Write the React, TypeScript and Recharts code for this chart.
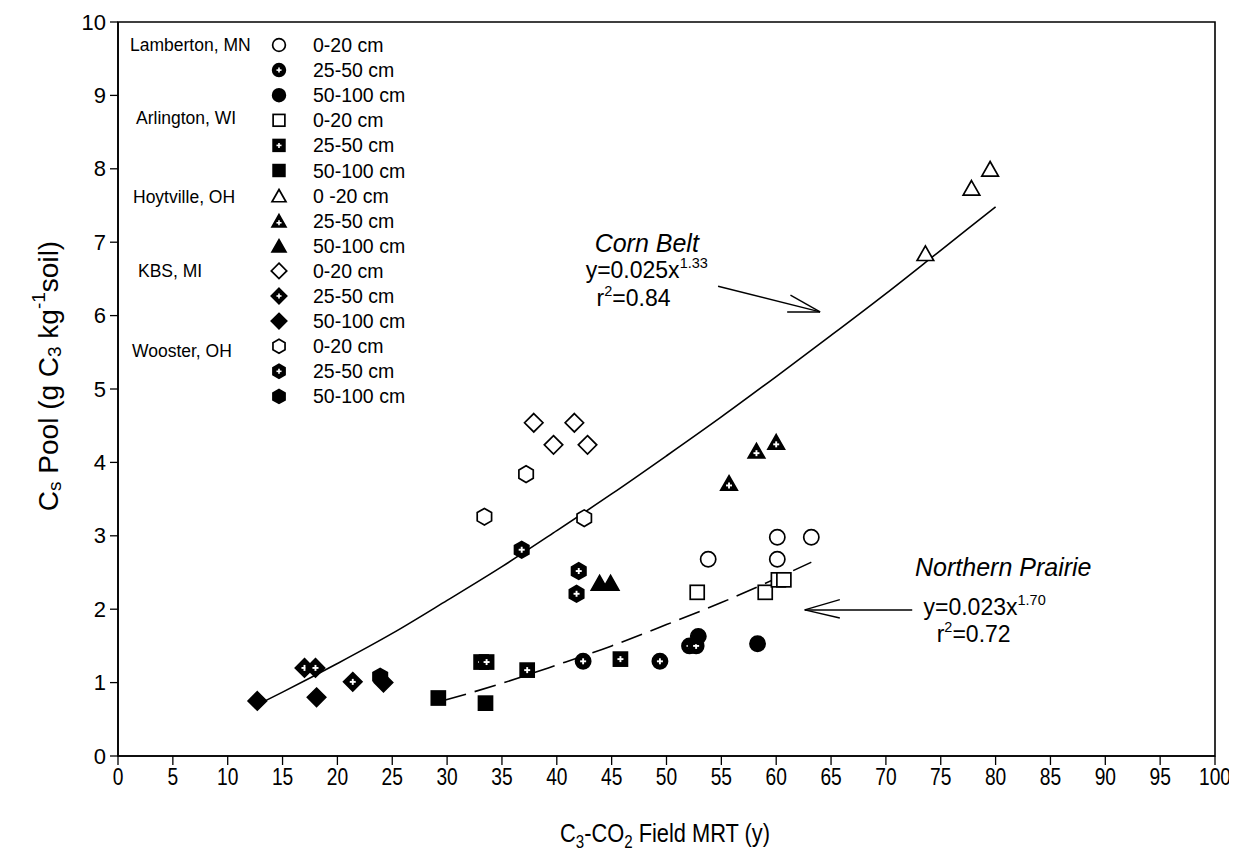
import React from 'react';
import {
  ScatterChart,
  Scatter,
  XAxis,
  YAxis,
  ReferenceArea,
  ReferenceLine,
  ReferenceDot,
  Legend,
} from 'recharts';

type Pt = { x: number; y: number };
type Kind = 'circle' | 'square' | 'triangle' | 'diamond' | 'hexagon';
type Variant = 'open' | 'plus' | 'solid';

const FONT = "'Liberation Sans', Arial, Helvetica, sans-serif";

// ---- tick labels ----
const xTicks = [0, 5, 10, 15, 20, 25, 30, 35, 40, 45, 50, 55, 60, 65, 70, 75, 80, 85, 90, 95, 100];
const yTicks = [0, 1, 2, 3, 4, 5, 6, 7, 8, 9, 10];

// ---- sites / depths ----
const siteNames = ['Lamberton, MN', 'Arlington, WI', 'Hoytville, OH', 'KBS, MI', 'Wooster, OH'];
const depthNames = ['0-20 cm', '25-50 cm', '50-100 cm'];
const hoytvilleTopLabel = '0 -20 cm';

// ---- data (x = C3-CO2 field MRT, y = Cs pool) ----
const lamberton0_20: Pt[] = [
  { x: 53.8, y: 2.68 }, { x: 60.1, y: 2.68 }, { x: 60.1, y: 2.98 }, { x: 63.2, y: 2.98 },
];
const lamberton25_50: Pt[] = [
  { x: 42.4, y: 1.29 }, { x: 49.4, y: 1.29 }, { x: 52.1, y: 1.5 }, { x: 52.7, y: 1.5 },
];
const lamberton50_100: Pt[] = [
  { x: 52.9, y: 1.63 }, { x: 58.3, y: 1.53 },
];
const arlington0_20: Pt[] = [
  { x: 52.8, y: 2.23 }, { x: 59.0, y: 2.23 }, { x: 60.2, y: 2.4 }, { x: 60.7, y: 2.4 },
];
const arlington25_50: Pt[] = [
  { x: 33.1, y: 1.28 }, { x: 33.6, y: 1.28 }, { x: 37.3, y: 1.17 }, { x: 45.8, y: 1.32 },
];
const arlington50_100: Pt[] = [
  { x: 29.2, y: 0.79 }, { x: 33.5, y: 0.72 },
];
const hoytville0_20: Pt[] = [
  { x: 73.6, y: 6.85 }, { x: 77.8, y: 7.74 }, { x: 79.5, y: 8.0 },
];
const hoytville25_50: Pt[] = [
  { x: 55.7, y: 3.72 }, { x: 58.2, y: 4.16 }, { x: 60.0, y: 4.28 },
];
const hoytville50_100: Pt[] = [
  { x: 43.9, y: 2.36 }, { x: 44.9, y: 2.36 },
];
const kbs0_20: Pt[] = [
  { x: 37.9, y: 4.54 }, { x: 41.6, y: 4.54 }, { x: 39.7, y: 4.24 }, { x: 42.8, y: 4.24 },
];
const kbs25_50: Pt[] = [
  { x: 17.0, y: 1.2 }, { x: 18.0, y: 1.2 }, { x: 21.4, y: 1.01 },
];
const kbs50_100: Pt[] = [
  { x: 12.7, y: 0.75 }, { x: 18.1, y: 0.8 }, { x: 24.2, y: 1.0 },
];
const wooster0_20: Pt[] = [
  { x: 33.4, y: 3.26 }, { x: 37.2, y: 3.84 }, { x: 42.5, y: 3.24 },
];
const wooster25_50: Pt[] = [
  { x: 36.8, y: 2.81 }, { x: 42.0, y: 2.52 }, { x: 41.8, y: 2.21 },
];
const wooster50_100: Pt[] = [
  { x: 23.9, y: 1.08 },
];

// ---- fitted curves ----
const cornBeltCurve: Pt[] = [
  { x: 13, y: 0.72 }, { x: 15, y: 0.87 }, { x: 20, y: 1.26 }, { x: 25, y: 1.67 },
  { x: 30, y: 2.12 }, { x: 35, y: 2.58 }, { x: 40, y: 3.07 }, { x: 45, y: 3.57 },
  { x: 50, y: 4.09 }, { x: 55, y: 4.62 }, { x: 60, y: 5.17 }, { x: 65, y: 5.73 },
  { x: 70, y: 6.3 }, { x: 75, y: 6.89 }, { x: 80, y: 7.48 },
];
const northernPrairieCurve: Pt[] = [
  { x: 29.8, y: 0.76 }, { x: 35, y: 0.99 }, { x: 40, y: 1.24 }, { x: 45, y: 1.5 },
  { x: 50, y: 1.79 }, { x: 55, y: 2.09 }, { x: 60, y: 2.42 }, { x: 63.2, y: 2.64 },
];

const seriesList: { site: string; depth: string; kind: Kind; variant: Variant; data: Pt[] }[] = [
  { site: siteNames[0], depth: depthNames[0], kind: 'circle', variant: 'open', data: lamberton0_20 },
  { site: '', depth: depthNames[1], kind: 'circle', variant: 'plus', data: lamberton25_50 },
  { site: '', depth: depthNames[2], kind: 'circle', variant: 'solid', data: lamberton50_100 },
  { site: siteNames[1], depth: depthNames[0], kind: 'square', variant: 'open', data: arlington0_20 },
  { site: '', depth: depthNames[1], kind: 'square', variant: 'plus', data: arlington25_50 },
  { site: '', depth: depthNames[2], kind: 'square', variant: 'solid', data: arlington50_100 },
  { site: siteNames[2], depth: hoytvilleTopLabel, kind: 'triangle', variant: 'open', data: hoytville0_20 },
  { site: '', depth: depthNames[1], kind: 'triangle', variant: 'plus', data: hoytville25_50 },
  { site: '', depth: depthNames[2], kind: 'triangle', variant: 'solid', data: hoytville50_100 },
  { site: siteNames[3], depth: depthNames[0], kind: 'diamond', variant: 'open', data: kbs0_20 },
  { site: '', depth: depthNames[1], kind: 'diamond', variant: 'plus', data: kbs25_50 },
  { site: '', depth: depthNames[2], kind: 'diamond', variant: 'solid', data: kbs50_100 },
  { site: siteNames[4], depth: depthNames[0], kind: 'hexagon', variant: 'open', data: wooster0_20 },
  { site: '', depth: depthNames[1], kind: 'hexagon', variant: 'plus', data: wooster25_50 },
  { site: '', depth: depthNames[2], kind: 'hexagon', variant: 'solid', data: wooster50_100 },
];

function Marker({ cx, cy, kind, variant, k = 1 }: { cx: number; cy: number; kind: Kind; variant: Variant; k?: number }) {
  if (cx == null || cy == null || isNaN(cx) || isNaN(cy)) return <g />;
  const fill = variant === 'open' ? '#fff' : '#000';
  const common = { fill, stroke: '#000', strokeWidth: 1.7 };
  let shape: React.ReactNode = null;
  let py = cy;
  if (kind === 'circle') {
    shape = <circle cx={cx} cy={cy} r={7.6 * k} {...common} />;
  } else if (kind === 'square') {
    const h = 7 * k;
    shape = <rect x={cx - h} y={cy - h} width={2 * h} height={2 * h} {...common} />;
  } else if (kind === 'triangle') {
    const w = 8.3 * k;
    const hh = 7.3 * k;
    shape = <polygon points={`${cx},${cy - hh} ${cx + w},${cy + hh} ${cx - w},${cy + hh}`} {...common} strokeLinejoin="miter" />;
    py = cy + 2.5 * k;
  } else if (kind === 'diamond') {
    const d = 9.2 * k;
    shape = <polygon points={`${cx},${cy - d} ${cx + d},${cy} ${cx},${cy + d} ${cx - d},${cy}`} {...common} />;
  } else {
    const r = 8.3 * k;
    const pts = [-90, -30, 30, 90, 150, 210]
      .map((a) => `${cx + r * Math.cos((a * Math.PI) / 180)},${cy + r * Math.sin((a * Math.PI) / 180)}`)
      .join(' ');
    shape = <polygon points={pts} {...common} />;
  }
  const a = 3 * k;
  return (
    <g>
      {shape}
      {variant === 'plus' && (
        <g stroke="#fff" strokeWidth={1.9 * k}>
          <line x1={cx - a} y1={py} x2={cx + a} y2={py} />
          <line x1={cx} y1={py - a} x2={cx} y2={py + a} />
        </g>
      )}
    </g>
  );
}

function LegendBlock() {
  const rowY = (i: number) => 15 + 25.1 * i;
  const siteX = [5, 11, 8, 13, 7];
  const siteDy = [0, -2, 1, 0, 5];
  return (
    <svg width={300} height={390} style={{ display: 'block', overflow: 'visible' }}>
      {seriesList.map((s, i) => {
        const siteIdx = siteNames.indexOf(s.site);
        return (
          <g key={i}>
            {s.site && (
              <text
                x={siteX[siteIdx]}
                y={rowY(i) + siteDy[siteIdx]}
                dominantBaseline="central"
                fontFamily={FONT}
                fontSize={17.5}
                fill="#000"
              >
                {s.site}
              </text>
            )}
            <Marker cx={154} cy={rowY(i)} kind={s.kind} variant={s.variant} k={0.84} />
            <text x={188} y={rowY(i)} dominantBaseline="central" fontFamily={FONT} fontSize={19.5} fill="#000">
              {s.depth}
            </text>
          </g>
        );
      })}
    </svg>
  );
}

function XTick(props: any) {
  const { x, y, payload } = props;
  return (
    <text
      transform={`translate(${x}, ${y + 20}) scale(0.8, 1)`}
      textAnchor="middle"
      fontFamily={FONT}
      fontSize={24}
      fill="#000"
    >
      {payload.value}
    </text>
  );
}

function YTick(props: any) {
  const { x, y, payload } = props;
  return (
    <text x={x} y={y} textAnchor="end" dominantBaseline="central" fontFamily={FONT} fontSize={22} fill="#000">
      {payload.value}
    </text>
  );
}

function YTitle() {
  return (
    <text
      x={40}
      y={368}
      transform="rotate(-90, 40, 368)"
      textAnchor="middle"
      dominantBaseline="central"
      fontFamily={FONT}
      fontSize={28}
      fill="#000"
    >
      C<tspan fontSize={19} dy={6}>s</tspan>
      <tspan dy={-6}> Pool (g C</tspan>
      <tspan fontSize={19} dy={6}>3</tspan>
      <tspan dy={-6}> kg</tspan>
      <tspan fontSize={19} dy={-10}>-1</tspan>
      <tspan dy={10}>soil)</tspan>
    </text>
  );
}

function XTitle() {
  return (
    <text
      transform="translate(657, 834) scale(0.84, 1)"
      textAnchor="middle"
      fontFamily={FONT}
      fontSize={26}
      fill="#000"
    >
      C<tspan fontSize={18} dy={6}>3</tspan>
      <tspan dy={-6}>-CO</tspan>
      <tspan fontSize={18} dy={6}>2</tspan>
      <tspan dy={-6}> Field MRT (y)</tspan>
    </text>
  );
}

function Annot({ cx, cy, main, sup, rest, italic, size = 23 }: any) {
  return (
    <text x={cx} y={cy} textAnchor="middle" fontFamily={FONT} fontSize={size} fontStyle={italic ? 'italic' : 'normal'} fill="#000">
      {main}
      {sup && (
        <tspan fontSize={14.5} dy={-10}>
          {sup}
        </tspan>
      )}
      {rest && <tspan dy={10}>{rest}</tspan>}
    </text>
  );
}

const lineStyle = { stroke: '#000', strokeWidth: 1.6 };

export default function App() {
  return (
    <div style={{ width: 1229, height: 847, position: 'relative', background: '#fff' }}>
      <ScatterChart width={1229} height={847} margin={{ top: 14, right: 22, left: 40, bottom: 39 }}>
        <XAxis
          type="number"
          dataKey="x"
          domain={[0, 100]}
          ticks={xTicks}
          interval={0}
          allowDataOverflow
          tickSize={9}
          tickMargin={0}
          height={60}
          axisLine={{ stroke: '#000', strokeWidth: 1.6 }}
          tickLine={{ stroke: '#000', strokeWidth: 1.3 }}
          tick={<XTick />}
          label={<XTitle />}
        />
        <YAxis
          type="number"
          dataKey="y"
          domain={[0, 10]}
          ticks={yTicks}
          interval={0}
          allowDataOverflow
          width={70}
          tickSize={8}
          tickMargin={4}
          axisLine={{ stroke: '#000', strokeWidth: 1.6 }}
          tickLine={{ stroke: '#000', strokeWidth: 1.3 }}
          tick={<YTick />}
          label={<YTitle />}
        />
        <ReferenceArea x1={0} x2={100} y1={0} y2={10} fill="none" stroke="#000" strokeWidth={1.6} ifOverflow="visible" />
        <Legend
          layout="horizontal"
          verticalAlign="middle"
          align="center"
          wrapperStyle={{ left: 117, top: 22, width: 300, height: 390 }}
          content={() => <LegendBlock />}
        />

        <Scatter
          data={cornBeltCurve}
          line={lineStyle}
          lineJointType="monotoneX"
          shape={() => <g />}
          isAnimationActive={false}
          legendType="none"
        />
        <Scatter
          data={northernPrairieCurve}
          line={{ ...lineStyle, strokeDasharray: '22 9' }}
          lineJointType="monotoneX"
          shape={() => <g />}
          isAnimationActive={false}
          legendType="none"
        />

        {seriesList.map((s, i) => (
          <Scatter
            key={i}
            name={`${s.site} ${s.depth}`}
            data={s.data}
            isAnimationActive={false}
            shape={(p: any) => <Marker cx={p.cx} cy={p.cy} kind={s.kind} variant={s.variant} />}
          />
        ))}

        {/* Corn Belt annotation */}
        <ReferenceDot x={48.2} y={6.87} ifOverflow="visible" shape={(p: any) => <Annot cx={p.cx} cy={p.cy} main="Corn Belt" italic size={25} />} />
        <ReferenceDot x={48.2} y={6.51} ifOverflow="visible" shape={(p: any) => <Annot cx={p.cx} cy={p.cy} main="y=0.025x" sup="1.33" />} />
        <ReferenceDot x={47.0} y={6.13} ifOverflow="visible" shape={(p: any) => <Annot cx={p.cx} cy={p.cy} main="r" sup="2" rest="=0.84" />} />
        <ReferenceLine segment={[{ x: 54.7, y: 6.4 }, { x: 64.0, y: 6.05 }]} stroke="#000" strokeWidth={1.4} ifOverflow="visible" />
        <ReferenceLine segment={[{ x: 61.3, y: 6.28 }, { x: 64.0, y: 6.05 }]} stroke="#000" strokeWidth={1.4} ifOverflow="visible" />
        <ReferenceLine segment={[{ x: 61.0, y: 6.05 }, { x: 64.0, y: 6.05 }]} stroke="#000" strokeWidth={1.4} ifOverflow="visible" />

        {/* Northern Prairie annotation */}
        <ReferenceDot x={80.7} y={2.45} ifOverflow="visible" shape={(p: any) => <Annot cx={p.cx} cy={p.cy} main="Northern Prairie" italic size={25} />} />
        <ReferenceDot x={79.0} y={1.92} ifOverflow="visible" shape={(p: any) => <Annot cx={p.cx} cy={p.cy} main="y=0.023x" sup="1.70" />} />
        <ReferenceDot x={78.0} y={1.55} ifOverflow="visible" shape={(p: any) => <Annot cx={p.cx} cy={p.cy} main="r" sup="2" rest="=0.72" />} />
        <ReferenceLine segment={[{ x: 72.4, y: 1.99 }, { x: 62.6, y: 1.99 }]} stroke="#000" strokeWidth={1.4} ifOverflow="visible" />
        <ReferenceLine segment={[{ x: 65.8, y: 2.13 }, { x: 62.6, y: 1.99 }]} stroke="#000" strokeWidth={1.4} ifOverflow="visible" />
        <ReferenceLine segment={[{ x: 65.8, y: 1.88 }, { x: 62.6, y: 1.99 }]} stroke="#000" strokeWidth={1.4} ifOverflow="visible" />
      </ScatterChart>
    </div>
  );
}
